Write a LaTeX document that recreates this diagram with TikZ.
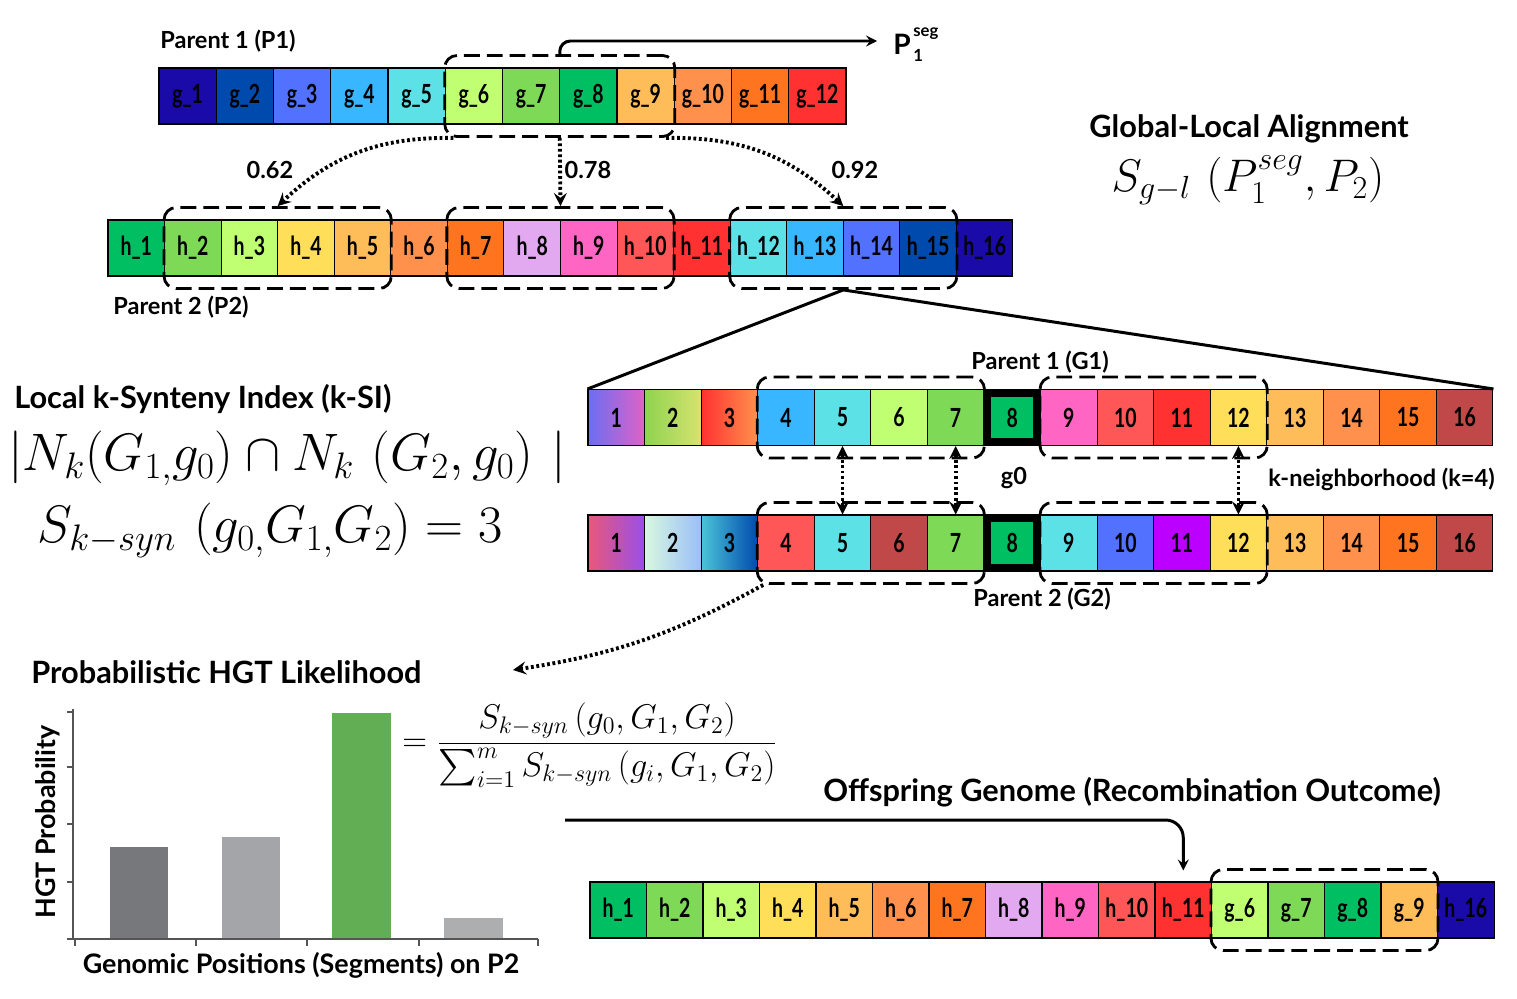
\RequirePackage{fix-cm}
\documentclass[tikz,border=0pt]{standalone}
\usepackage{amsmath}
\usepackage{fontspec}
\newfontfamily\titlefont{Lato}
\newfontfamily\genefont[FakeStretch=0.74]{Lato}
\usetikzlibrary{arrows,positioning,fit}

\definecolor{indigo}{HTML}{1A0AA8}
\definecolor{royal}{HTML}{004AAD}
\definecolor{periwinkle}{HTML}{5271FF}
\definecolor{sky}{HTML}{38B6FF}
\definecolor{aqua}{HTML}{5CE1E6}
\definecolor{lime}{HTML}{C1FF72}
\definecolor{leaf}{HTML}{7ED957}
\definecolor{emerald}{HTML}{00BF63}
\definecolor{apricot}{HTML}{FFBD59}
\definecolor{tangerine}{HTML}{FF914D}
\definecolor{orange}{HTML}{FF751F}
\definecolor{scarlet}{HTML}{FF3131}
\definecolor{coral}{HTML}{FF5757}
\definecolor{yellow}{HTML}{FFDE59}
\definecolor{pink}{HTML}{FF66C4}
\definecolor{lilac}{HTML}{E2A9F1}
\definecolor{brick}{HTML}{C04848}
\definecolor{purple}{HTML}{BC00FF}
\definecolor{bluepink}{HTML}{6A6EF2}
\definecolor{pinkish}{HTML}{DF62C6}
\definecolor{grass}{HTML}{8ED34E}
\definecolor{straw}{HTML}{D7E36F}
\definecolor{rose}{HTML}{E8587A}
\definecolor{violet}{HTML}{9A4FE8}
\definecolor{mint}{HTML}{D8F8E0}
\definecolor{babyblue}{HTML}{9ABFF8}
\definecolor{teal}{HTML}{4CC4D8}
\definecolor{axisgray}{HTML}{555555}
\definecolor{bardark}{HTML}{76787B}
\definecolor{barmid}{HTML}{A4A5A8}
\definecolor{barlight}{HTML}{ADAEB0}
\definecolor{bargreen}{HTML}{62AE55}

\tikzset{
  gene/.style={draw=black, line width=0.6pt, minimum width=1.131cm,
    minimum height=1.12cm, inner sep=0pt,
    font=\genefont\bfseries\fontsize{15}{17}\selectfont},
  zerobox/.style={draw=black, line width=4pt, minimum width=1.131cm-4pt,
    minimum height=1.12cm-4pt, inner sep=0pt},
  segbox/.style={draw=black, line width=1.6pt, dash pattern=on 9pt off 4pt,
    rounded corners=7pt, inner xsep=0pt, inner ysep=0.24cm},
  lbl/.style={inner sep=0pt, font=\titlefont\bfseries\fontsize{13.4}{15}\selectfont},
  title/.style={inner sep=0pt, font=\titlefont\bfseries\fontsize{17.5}{20}\selectfont},
  axlbl/.style={inner sep=0pt, font=\titlefont\bfseries\fontsize{15.3}{17}\selectfont},
  flow/.style={draw=black, line width=1.7pt, >=stealth},
  dots/.style={draw=black, line width=2.2pt, dash pattern=on 1.6pt off 1.5pt, >=stealth},
  axis/.style={draw=axisgray, line width=0.9pt}
}

\begin{document}
\begin{tikzpicture}[x=0.02cm, y=-0.02cm]
  \useasboundingbox (0,0) rectangle (1517,998);

  %% Parent 1 (P1)
  \foreach \col [count=\i] in {indigo,royal,periwinkle,sky,aqua,lime,leaf,
    emerald,apricot,tangerine,orange,scarlet}
    \node[gene, fill=\col, minimum width=1.145cm] (p1-\i)
      at ({159+57.25*(\i-0.5)},96) {g\_\i};
  \node[lbl, anchor=west] (p1lbl) at (160,41) {Parent 1 (P1)};
  \node[segbox, fit=(p1-6)(p1-9)] (p1seg) {};
  \node[lbl, anchor=base west, font=\titlefont\bfseries\fontsize{16}{18}\selectfont]
    (pseg) at (893,54) {P\kern1.5pt\raisebox{-4pt}{\rlap{\fontsize{9.5}{10}\selectfont 1}}%
    \raisebox{10pt}{\fontsize{9.5}{10}\selectfont seg}};
  \coordinate (psegin) at (877,41);
  \draw[flow, ->, rounded corners=6pt] (p1seg.north) |- (psegin);

  %% Parent 2 (P2)
  \foreach \col [count=\i] in {emerald,leaf,lime,yellow,apricot,tangerine,
    orange,lilac,pink,coral,scarlet,aqua,sky,periwinkle,royal,indigo}
    \node[gene, fill=\col] (p2-\i) at ({108+56.56*(\i-0.5)},248) {h\_\i};
  \node[lbl, anchor=west] (p2lbl) at (113,307) {Parent 2 (P2)};
  \node[segbox, fit=(p2-2)(p2-5)] (p2segA) {};
  \node[segbox, fit=(p2-7)(p2-10)] (p2segB) {};
  \node[segbox, fit=(p2-12)(p2-15)] (p2segC) {};

  %% alignment scores
  \draw[dots, ->] ([xshift=0.2cm]p1seg.south west) to[bend right=22] (p2segA.north);
  \draw[dots, ->] (p1seg.south) -- (p2segB.north);
  \draw[dots, ->] ([xshift=-0.2cm]p1seg.south east) to[bend left=22] (p2segC.north);
  \node[lbl] (sc1) at (270,170) {0.62};
  \node[lbl] (sc2) at (588,170) {0.78};
  \node[lbl] (sc3) at (855,170) {0.92};

  \node[title] (galbl) at (1249,129) {Global-Local Alignment};
  \node[inner sep=0pt, font=\fontsize{26}{30}\selectfont] (galign) at (1248,180)
    {$S_{g-l}\,\left(P_1^{seg},P_2\right)$};

  %% Parent 1 (G1) and Parent 2 (G2)
  \foreach \lc/\rc [count=\i] in {bluepink/pinkish,grass/straw,scarlet/tangerine,
    sky/sky,aqua/aqua,lime/lime,leaf/leaf,emerald/emerald,pink/pink,coral/coral,
    scarlet/scarlet,yellow/yellow,apricot/apricot,tangerine/tangerine,
    orange/orange,brick/brick}
    \node[gene, left color=\lc, right color=\rc] (g1-\i)
      at ({588+56.56*(\i-0.5)},417.5) {\i};
  \foreach \lc/\rc [count=\i] in {rose/violet,mint/babyblue,teal/royal,
    coral/coral,aqua/aqua,brick/brick,leaf/leaf,emerald/emerald,aqua/aqua,
    periwinkle/periwinkle,purple/purple,yellow/yellow,apricot/apricot,
    tangerine/tangerine,orange/orange,brick/brick}
    \node[gene, left color=\lc, right color=\rc] (g2-\i)
      at ({588+56.56*(\i-0.5)},543) {\i};
  \node[zerobox] (g1-zero) at (g1-8) {};
  \node[zerobox] (g2-zero) at (g2-8) {};
  \node[segbox, fit=(g1-4)(g1-7)] (g1nbL) {};
  \node[segbox, fit=(g1-9)(g1-12)] (g1nbR) {};
  \node[segbox, fit=(g2-4)(g2-7)] (g2nbL) {};
  \node[segbox, fit=(g2-9)(g2-12)] (g2nbR) {};

  \draw[flow] (g1-1.north west) -- (p2segC.south) -- (g1-16.north east);

  \node[lbl] (g1lbl) at (1040,362) {Parent 1 (G1)};
  \node[lbl] (g2lbl) at (1042,599) {Parent 2 (G2)};
  \node[lbl] (g0lbl) at (1014,478) {g0};
  \node[lbl, anchor=east] (klbl) at (1495,479) {k-neighborhood (k=4)};

  \draw[dots, <->] (g1-5.south) -- (g2-5.north);
  \draw[dots, <->] (g1-7.south) -- (g2-7.north);
  \draw[dots, <->] (g1-12.south) -- (g2-12.north);

  %% k-SI
  \node[title, anchor=west] (ksilbl) at (14,399) {Local k-Synteny Index (k-SI)};
  \node[inner sep=0pt, font=\fontsize{30}{34}\selectfont] (ksiset) at (287,458)
    {$|N_k(G_{1,}g_0)\cap N_k\,\left(G_2,g_0\right)\,|$};
  \node[inner sep=0pt, font=\fontsize{30}{34}\selectfont] (ksival) at (270,530)
    {$S_{k-syn}\,\left(g_{0,}G_{1,}G_2\right)=3$};

  %% HGT likelihood
  \coordinate (hgtin) at (513,670);
  \draw[dots, ->] ([xshift=0.15cm]g2nbL.south west) to[bend left=10] (hgtin);
  \node[title, anchor=west] (hgtlbl) at (31,672) {Probabilistic HGT Likelihood};

  \fill[bardark] (110,939) rectangle (168,847);
  \fill[barmid] (222,939) rectangle (280,837);
  \fill[bargreen] (332,939) rectangle (391,713);
  \fill[barlight] (444,939) rectangle (503,918);
  \draw[axis] (73,709) -- (73,939) -- (538,939);
  \foreach \y in {712,767,824,882,939}
    \draw[axis] (67,\y) -- (73,\y);
  \foreach \x in {75,196,307,419,538}
    \draw[axis] (\x,939) -- (\x,946);
  \node[axlbl, rotate=90] (ylbl) at (48,822) {HGT Probability};
  \node[axlbl] (xlbl) at (301,965) {Genomic Positions (Segments) on P2};

  \node[inner sep=0pt, anchor=west, font=\fontsize{19.5}{23}\selectfont] (hgtfrac)
    at (402,745) {$=\displaystyle\frac{S_{k-syn}\,(g_0,G_1,G_2)}
    {{\textstyle\sum_{i=1}^{m}}\,S_{k-syn}\,(g_i,G_1,G_2)}$};

  %% Offspring
  \node[title] (offlbl) at (1132,792) {Offspring Genome (Recombination Outcome)};
  \foreach \lab/\col [count=\i] in {h\_1/emerald,h\_2/leaf,h\_3/lime,h\_4/yellow,
    h\_5/apricot,h\_6/tangerine,h\_7/orange,h\_8/lilac,h\_9/pink,h\_10/coral,
    h\_11/scarlet,g\_6/lime,g\_7/leaf,g\_8/emerald,g\_9/apricot,h\_16/indigo}
    \node[gene, fill=\col] (off-\i) at ({590+56.5*(\i-0.5)},910) {\lab};
  \node[segbox, fit=(off-12)(off-15)] (offseg) {};
  \coordinate (chartout) at (565,820);
  \draw[flow, ->, rounded corners=10pt] (chartout) -| ([yshift=0.22cm]off-11.north);

\end{tikzpicture}
\end{document}
